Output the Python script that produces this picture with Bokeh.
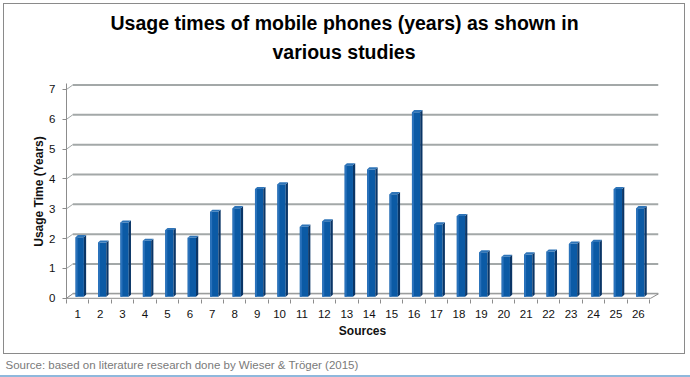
from bokeh.plotting import figure
from bokeh.models import Range1d, FixedTicker, Title, InlineStyleSheet, LinearAxis
from bokeh.embed import file_html
from bokeh.resources import INLINE

# ---- data ----
sources = list(range(1, 27))
usage_years = [2.05, 1.87, 2.54, 1.93, 2.29, 2.03, 2.90, 3.02, 3.66, 3.82,
               2.40, 2.58, 4.46, 4.32, 3.49, 6.24, 2.48, 2.76, 1.54, 1.39,
               1.47, 1.57, 1.83, 1.89, 3.66, 3.02]
y_ticks = [0, 1, 2, 3, 4, 5, 6, 7]
title_line1 = "Usage times of mobile phones (years) as shown in"
title_line2 = "various studies"
x_label = "Sources"
y_label = "Usage Time (Years)"
source_note = "Source: based on literature research done by Wieser & Tröger (2015)"

# ---- styling / 3D geometry (data units) ----
X0, X1 = 0.5, 26.9
Y0, Y1 = -0.04, 7.2
wall_dx, wall_dy = 0.28, 0.15
floor_right = 26.55
bar_w, bar_shift, bar_base = 0.37, 0.09, 0.05
side_dx, side_dy = 0.10, 0.07
hl_w = 0.09
grid_col = "#a3a8a8"
front_col = "#0b5aa5"
hl_col = "#2a72bb"
side_col = "#0a3566"
top_col = "#2e74b8"
FL, FB = 66, 299   # frame left / bottom in canvas px

frame_css = InlineStyleSheet(css="""
:host { position: relative; }
:host::before { content: ""; position: absolute; left: 3px; top: 3px; width: 682px; height: 351px;
  border: 1.5px solid #8a8a8a; box-sizing: border-box; pointer-events: none; z-index: 10; }
:host::after { content: ""; position: absolute; left: 0px; top: 375px; width: 690px; height: 2px;
  background: #8fb8dc; pointer-events: none; z-index: 10; }
""")

p = figure(width=690, height=377, x_range=Range1d(X0, X1), y_range=Range1d(Y0, Y1),
           output_backend="svg", toolbar_location=None,
           min_border_left=FL, min_border_right=32, min_border_top=83, min_border_bottom=377 - FB,
           stylesheets=[frame_css])
p.outline_line_color = None
p.grid.visible = False
p.background_fill_color = "white"
p.border_fill_color = "white"

# back wall gridlines
gx0 = [X0 + wall_dx] * len(y_ticks)
gx1 = [X1] * len(y_ticks)
gy = [t + wall_dy for t in y_ticks]
p.segment(x0=gx0, y0=gy, x1=gx1, y1=gy, line_color=grid_col, line_width=2)
p.segment(x0=[X0] * len(y_ticks), y0=y_ticks, x1=gx0, y1=gy, line_color=grid_col, line_width=1)

# floor
p.patch([X0, floor_right, X1, X0 + wall_dx], [0, 0, wall_dy, wall_dy],
        fill_color="white", line_color="#8c8c8c", line_width=1)

# bars (front, highlight, side, top)
xs = [s + bar_shift for s in sources]
hl_xs = [x - bar_w / 2 + hl_w / 2 for x in xs]
side_xs, side_ys, top_xs, top_ys = [], [], [], []
for x, v in zip(xs, usage_years):
    r = x + bar_w / 2
    l = x - bar_w / 2
    side_xs.append([r, r + side_dx, r + side_dx, r])
    side_ys.append([bar_base, bar_base + side_dy, v + side_dy, v])
    top_xs.append([l, l + side_dx, r + side_dx, r])
    top_ys.append([v, v + side_dy, v + side_dy, v])
p.vbar(x=xs, top=usage_years, bottom=bar_base, width=bar_w, fill_color=front_col, line_color=None)
p.vbar(x=hl_xs, top=usage_years, bottom=bar_base, width=hl_w, fill_color=hl_col, line_color=None)
p.patches(side_xs, side_ys, fill_color=side_col, line_color=None)
p.patches(top_xs, top_ys, fill_color=top_col, line_color=None)

# axes
xa = p.xaxis[0]
xa.ticker = FixedTicker(ticks=sources, minor_ticks=[i + 0.5 for i in range(0, 27)])
xa.axis_line_color = None
xa.major_tick_line_color = None
xa.major_tick_out = 4
xa.minor_tick_in = 0
xa.minor_tick_out = 4
xa.minor_tick_line_color = "#8c8c8c"
xa.major_label_text_font = "Liberation Sans"
xa.major_label_text_font_size = "11.5px"
xa.major_label_text_color = "#111111"
xa.major_label_standoff = 6
xa.axis_label = x_label
xa.axis_label_text_font = "Liberation Sans"
xa.axis_label_text_font_size = "12px"
xa.axis_label_text_font_style = "bold"
xa.axis_label_text_color = "#111111"
xa.axis_label_standoff = 3

ya = p.yaxis[0]
ya.ticker = FixedTicker(ticks=y_ticks, minor_ticks=[])
ya.axis_line_color = "#8c8c8c"
ya.major_tick_line_color = "#8c8c8c"
ya.major_tick_out = 4
ya.major_tick_in = 0
ya.minor_tick_line_color = None
ya.major_label_text_font = "Liberation Sans"
ya.major_label_text_font_size = "11.5px"
ya.major_label_text_color = "#111111"
ya.major_label_standoff = 7
ya.axis_label = y_label
ya.axis_label_text_font = "Liberation Sans"
ya.axis_label_text_font_size = "12px"
ya.axis_label_text_font_style = "bold"
ya.axis_label_text_color = "#111111"
ya.axis_label_standoff = 0


def spacer_axis(size):
    # an invisible axis used only to reserve vertical space in a side panel
    ax = LinearAxis(ticker=FixedTicker(ticks=[13], minor_ticks=[]),
                    major_label_overrides={13: ""})
    ax.axis_line_color = None
    ax.major_tick_line_color = None
    ax.minor_tick_line_color = None
    ax.major_tick_in = 0
    ax.minor_tick_in = 0
    ax.minor_tick_out = 0
    ax.major_tick_out = size
    ax.major_label_standoff = 0
    ax.major_label_text_font_size = "1px"
    return ax


# spacer between frame and title lines
p.add_layout(spacer_axis(16), "above")

# title (two centred lines)
p.add_layout(Title(text=title_line2, text_font="Liberation Sans", text_font_size="19.5px",
                   text_font_style="bold", text_color="#000000", align="left",
                   offset=206, standoff=10), "above")
p.title.text = title_line1
p.title.text_font = "Liberation Sans"
p.title.text_font_size = "19.5px"
p.title.text_font_style = "bold"
p.title.text_color = "#000000"
p.title.align = "left"
p.title.offset = 44
p.title.standoff = 0

# spacer + source note below the chart box
p.add_layout(spacer_axis(14), "below")
p.add_layout(Title(text=source_note, text_font="Liberation Sans", text_font_size="11.5px",
                   text_font_style="normal", text_color="#7a7a7a", align="left",
                   offset=5 - FL, standoff=4), "below")

open("out.html", "w").write(file_html(p, INLINE))
